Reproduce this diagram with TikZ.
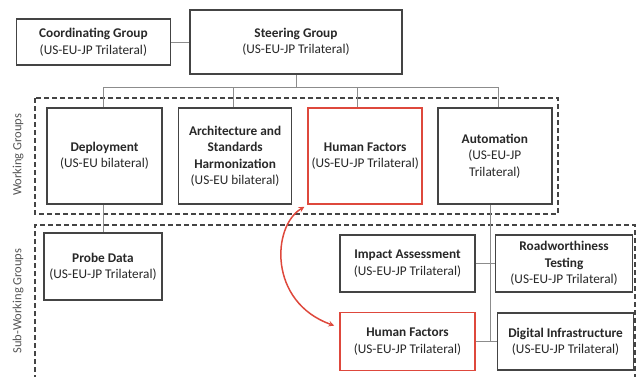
\documentclass[tikz,border=0pt]{standalone}
\usepackage{fontspec}
\setmainfont{Carlito}
\usepackage{tikz}
\usetikzlibrary{arrows,positioning}
\definecolor{boxgray}{RGB}{68,68,68}
\definecolor{linegray}{RGB}{140,140,140}
\definecolor{txtgray}{RGB}{40,40,40}
\definecolor{sidegray}{RGB}{85,85,85}
\definecolor{hfred}{RGB}{222,72,60}
\tikzstyle{group}=[draw=boxgray,line width=1.6pt,fill=white,align=center,text=txtgray,inner sep=1pt,font=\fontsize{13.3}{16.5}\selectfont]
\tikzstyle{hfgroup}=[group,draw=hfred]
\tikzstyle{link}=[draw=linegray,line width=1pt]
\tikzstyle{region}=[draw=boxgray,line width=1.8pt,dash pattern=on 5pt off 3pt]
\tikzstyle{side}=[rotate=90,text=sidegray,font=\fontsize{12.5}{14}\selectfont]

\begin{document}
\begin{tikzpicture}[x=1pt,y=-1pt]
\useasboundingbox (0,0) rectangle (641,376);
% dashed regions
\draw[region] (35,98) rectangle (558,214);
\draw[region] (35,380) |- (635,225) -- (635,380);
\node[side] (wglabel) at (18,155) {Working Groups};
\node[side] (swglabel) at (18,301) {Sub-Working Groups};

% top
\node[group,minimum width=212pt,minimum height=64pt] (steer) at (296,42)
  {\textbf{Steering Group}\\(US-EU-JP Trilateral)};
\node[group,minimum width=154pt,minimum height=46pt] (coord) [left=18pt of steer]
  {\textbf{Coordinating Group}\\(US-EU-JP Trilateral)};

% working groups
\node[group,minimum width=115pt,minimum height=96pt] (deploy) at (104.5,156)
  {\textbf{Deployment}\\(US-EU bilateral)};
\node[group,minimum width=113pt,minimum height=96pt] (arch) [right=15pt of deploy]
  {\textbf{Architecture and}\\\textbf{Standards}\\\textbf{Harmonization}\\(US-EU bilateral)};
\node[hfgroup,minimum width=114pt,minimum height=96pt] (hfw) [right=15pt of arch]
  {\textbf{Human Factors}\\(US-EU-JP Trilateral)};
\node[group,minimum width=114pt,minimum height=96pt] (auto) [right=14pt of hfw]
  {\textbf{Automation}\\(US-EU-JP\\Trilateral)};

% sub-working groups
\node[group,minimum width=118pt,minimum height=67pt] (probe) at (103,266.5)
  {\textbf{Probe Data}\\(US-EU-JP Trilateral)};
\node[group,minimum width=135pt,minimum height=57pt] (impact) at (407.5,263.5)
  {\textbf{Impact Assessment}\\(US-EU-JP Trilateral)};
\node[group,minimum width=137pt,minimum height=57pt] (road) [right=19pt of impact]
  {\textbf{Roadworthiness}\\\textbf{Testing}\\(US-EU-JP Trilateral)};
\node[hfgroup,minimum width=135pt,minimum height=58pt] (hfs) [below=19pt of impact]
  {\textbf{Human Factors}\\(US-EU-JP Trilateral)};
\node[group,minimum width=136pt,minimum height=57pt] (digital) [right=21pt of hfs]
  {\textbf{Digital Infrastructure}\\(US-EU-JP Trilateral)};

% links
\coordinate (bus) at (296,87);
\draw[link] (coord) -- (steer);
\draw[link] (steer.south) -- (bus);
\draw[link] ([xshift=-1.5pt]deploy.north) |- (bus);
\draw[link] ([xshift=4pt]auto.north) |- (bus);
\draw[link] ([xshift=-1.5pt]arch.north) -- ([xshift=-1.5pt]arch.north |- bus);
\draw[link] ([xshift=-8pt]hfw.north) -- ([xshift=-8pt]hfw.north |- bus);
\draw[link] (probe.north) -- (probe.north |- deploy.south);
\coordinate (spine) at ([xshift=-4pt]auto.south);
\draw[link] (spine) -- (spine |- hfs.east);
\draw[link] (impact.east) -- (road.west);
\draw[link] (hfs.east) -- (digital.west);

% human factors link
\draw[hfred,line width=1.5pt,stealth-stealth] ([xshift=-3pt,yshift=-2pt]hfw.south west)
  .. controls (272,226) and (268,302) .. ([xshift=-5pt,yshift=16pt]hfs.west);
\end{tikzpicture}
\end{document}
